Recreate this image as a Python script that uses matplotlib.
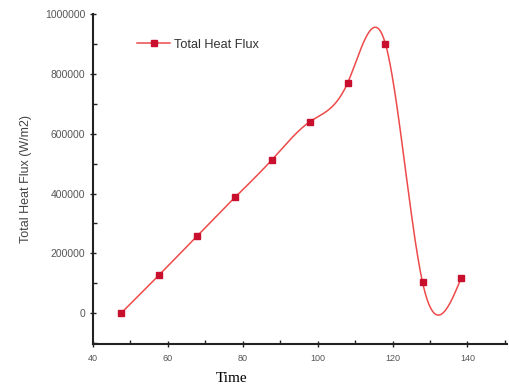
import numpy as np
import matplotlib
matplotlib.use("Agg")
import matplotlib.pyplot as plt
from matplotlib.ticker import MultipleLocator, FormatStrFormatter

plt.rcParams["font.family"] = ["Liberation Sans", "DejaVu Sans"]

time = [47.5, 57.6, 67.7, 77.9, 87.8, 97.9, 108.0, 118.1, 128.0, 138.3]
flux = [0, 127000, 257000, 387000, 513000, 640000, 770000, 900000, 103000, 117000]


def natural_spline(x, y, n=400):
    # courbe lissée type "spline" d'Origin
    x = np.asarray(x, float)
    y = np.asarray(y, float)
    k = len(x)
    h = np.diff(x)
    A = np.zeros((k, k))
    b = np.zeros(k)
    A[0, 0] = A[-1, -1] = 1
    for i in range(1, k - 1):
        A[i, i - 1] = h[i - 1]
        A[i, i] = 2 * (h[i - 1] + h[i])
        A[i, i + 1] = h[i]
        b[i] = 6 * ((y[i + 1] - y[i]) / h[i] - (y[i] - y[i - 1]) / h[i - 1])
    M = np.linalg.solve(A, b)
    xs = np.linspace(x[0], x[-1], n)
    idx = np.clip(np.searchsorted(x, xs) - 1, 0, k - 2)
    x0, x1 = x[idx], x[idx + 1]
    hh = x1 - x0
    ys = (M[idx] * (x1 - xs) ** 3 / (6 * hh) + M[idx + 1] * (xs - x0) ** 3 / (6 * hh)
          + (y[idx] / hh - M[idx] * hh / 6) * (x1 - xs)
          + (y[idx + 1] / hh - M[idx + 1] * hh / 6) * (xs - x0))
    return xs, ys


fig = plt.figure(figsize=(5.09, 3.90), dpi=100)
ax = fig.add_axes([0.1827, 0.118, 0.813, 0.846])

xs, ys = natural_spline(time, flux)
ax.plot(xs, ys, color="#ee4a4a", lw=1.1)
ax.plot(time, flux, "s", color="#c8102e", ms=4.8, ls="none")
ax.plot([], [], "-s", color="#ee4a4a", mfc="#c8102e", mec="#c8102e", ms=4.8,
        lw=1.1, label="Total Heat Flux")

ax.set_xlim(40, 150.5)
ax.set_ylim(-103000, 1000000)
ax.xaxis.set_major_locator(MultipleLocator(20))
ax.xaxis.set_minor_locator(MultipleLocator(10))
ax.yaxis.set_major_locator(MultipleLocator(200000))
ax.yaxis.set_minor_locator(MultipleLocator(100000))
ax.yaxis.set_major_formatter(FormatStrFormatter("%d"))

for s in ["top", "right"]:
    ax.spines[s].set_visible(False)
for s in ["left", "bottom"]:
    ax.spines[s].set_linewidth(1.5)
    ax.spines[s].set_color("#222222")

ax.tick_params(which="major", direction="inout", length=5, width=1, colors="#222222",
               labelcolor="#555555")
ax.tick_params(axis="y", labelsize=7.5, pad=3)
ax.tick_params(axis="x", labelsize=6.5, pad=5)
ax.tick_params(which="minor", direction="in", length=3, width=1, colors="#222222")

ax.set_ylabel("Total Heat Flux (W/m2)", fontsize=9, color="#444444", labelpad=9)
fig.text(0.454, 0.02, "Time", family="Liberation Serif", fontsize=11, ha="center",
         va="baseline")

ax.legend(loc="upper left", bbox_to_anchor=(0.247, 0.93), bbox_transform=fig.transFigure,
          frameon=False, fontsize=9.2, handlelength=2.6, handletextpad=0.3,
          labelcolor="#333333")

fig.savefig("out.png", dpi=100)
